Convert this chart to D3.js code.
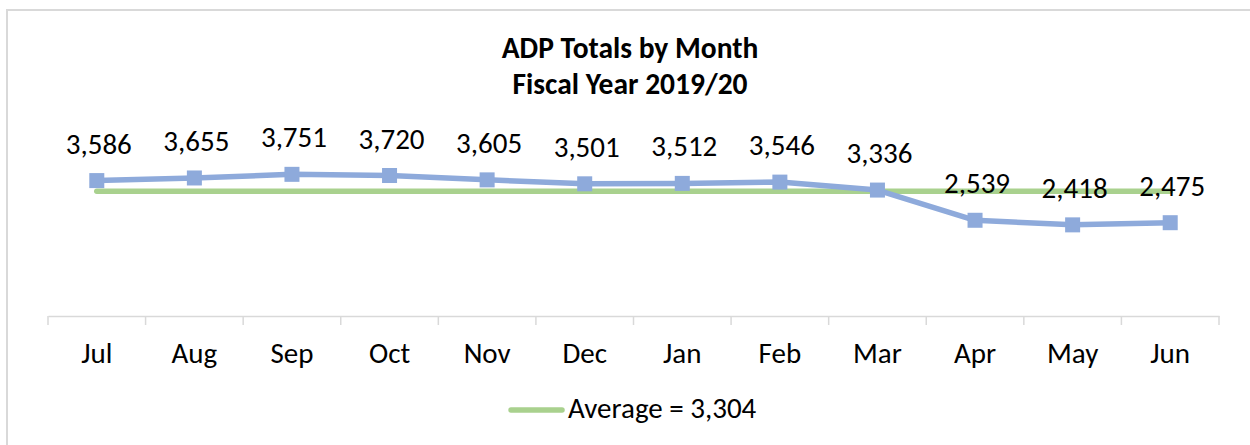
<!DOCTYPE html>
<html>
<head>
<meta charset="utf-8">
<script src="https://cdn.jsdelivr.net/npm/d3@7"></script>
<style>
  html, body { margin: 0; padding: 0; background: #fff; }
  svg { display: block; font-family: Calibri, Carlito, Lato, sans-serif; }
</style>
</head>
<body>
<svg id="chart" width="1250" height="445"></svg>
<script>
(function () {
  'use strict';

  // data
  var months = ['Jul', 'Aug', 'Sep', 'Oct', 'Nov', 'Dec', 'Jan', 'Feb', 'Mar', 'Apr', 'May', 'Jun'];
  var totals = [3586, 3655, 3751, 3720, 3605, 3501, 3512, 3546, 3336, 2539, 2418, 2475];
  var average = 3304;
  var titleLines = ['ADP Totals by Month', 'Fiscal Year 2019/20'];

  var blue = '#8eaadb';
  var green = '#a9d18e';
  var grid = '#d9d9d9';

  var svg = d3.select('#chart');

  // outer chart frame (runs off the right / bottom edge)
  svg.append('rect')
    .attr('x', 7).attr('y', 10)
    .attr('width', 1300).attr('height', 500)
    .attr('fill', '#fff')
    .attr('stroke', grid)
    .attr('stroke-width', 2);

  var x = d3.scaleBand().domain(months).range([48, 1219]);
  var y = d3.scaleLinear().domain([0, 4000]).range([316.5, 164.9]);
  var cx = function (m) { return x(m) + x.bandwidth() / 2; };

  // title
  svg.append('g').selectAll('text')
    .data(titleLines)
    .enter().append('text')
    .attr('x', 630)
    .attr('y', function (d, i) { return 58 + i * 35.5; })
    .attr('text-anchor', 'middle')
    .attr('font-size', 29.5)
    .attr('font-weight', 'bold')
    .attr('fill', '#000')
    .text(function (d) { return d; });

  // category axis: labels from d3 axis, tick marks on band edges
  var axis = svg.append('g')
    .attr('transform', 'translate(0,316)')
    .call(d3.axisBottom(x).tickSize(0).tickPadding(0));
  axis.select('.domain').attr('stroke', grid).attr('stroke-width', 1.5);
  axis.selectAll('.tick text')
    .attr('y', 47)
    .attr('dy', 0)
    .attr('font-size', 29)
    .attr('font-family', 'Calibri, Carlito, Lato, sans-serif')
    .attr('fill', '#000');

  var edges = months.map(function (m) { return x(m); }).concat([x.range()[1]]);
  axis.selectAll('.edge')
    .data(edges)
    .enter().append('line')
    .attr('class', 'edge')
    .attr('x1', function (d) { return d; })
    .attr('x2', function (d) { return d; })
    .attr('y1', 0).attr('y2', 9)
    .attr('stroke', grid)
    .attr('stroke-width', 1.5);

  // average line
  svg.append('line')
    .attr('x1', cx(months[0]))
    .attr('x2', cx(months[months.length - 1]))
    .attr('y1', y(average))
    .attr('y2', y(average))
    .attr('stroke', green)
    .attr('stroke-width', 5.5)
    .attr('stroke-linecap', 'round');

  // totals line with square markers
  var line = d3.line()
    .x(function (d, i) { return cx(months[i]); })
    .y(function (d) { return y(d); });

  svg.append('path')
    .datum(totals)
    .attr('d', line)
    .attr('fill', 'none')
    .attr('stroke', blue)
    .attr('stroke-width', 5.5)
    .attr('stroke-linejoin', 'round');

  svg.append('g').selectAll('rect')
    .data(totals)
    .enter().append('rect')
    .attr('x', function (d, i) { return cx(months[i]) - 7.5; })
    .attr('y', function (d) { return y(d) - 7.5; })
    .attr('width', 15).attr('height', 15)
    .attr('fill', blue);

  // data labels
  svg.append('g').selectAll('text')
    .data(totals)
    .enter().append('text')
    .attr('x', function (d, i) { return cx(months[i]) + 2; })
    .attr('y', function (d) { return y(d) - 27; })
    .attr('text-anchor', 'middle')
    .attr('font-size', 29)
    .attr('fill', '#000')
    .text(function (d) { return d3.format(',')(d); });

  // legend
  var legend = svg.append('g');
  legend.append('line')
    .attr('x1', 511).attr('x2', 562)
    .attr('y1', 410).attr('y2', 410)
    .attr('stroke', green)
    .attr('stroke-width', 5.5)
    .attr('stroke-linecap', 'round');
  legend.append('text')
    .attr('x', 568).attr('y', 418)
    .attr('font-size', 29)
    .attr('fill', '#000')
    .text('Average = ' + d3.format(',')(average));
}());
</script>
</body>
</html>
